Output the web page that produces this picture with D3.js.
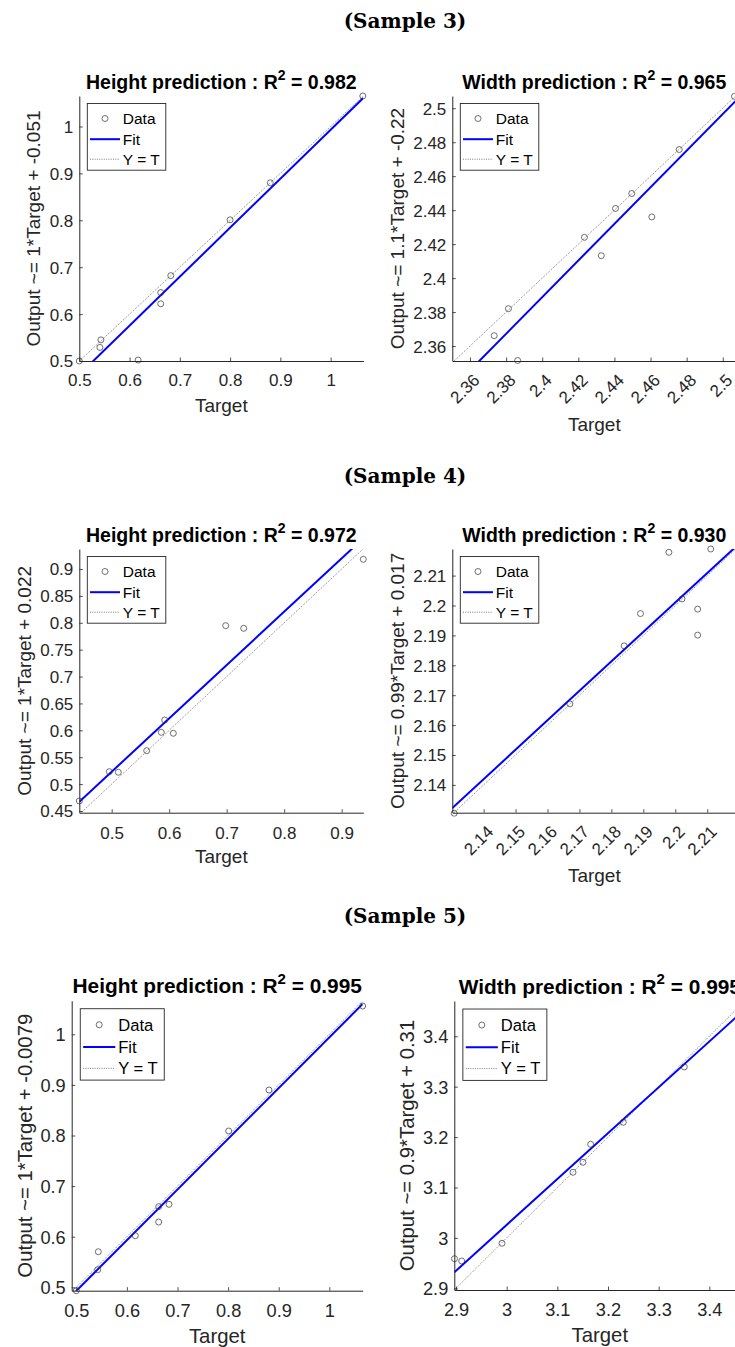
<!DOCTYPE html>
<html><head><meta charset="utf-8">
<script src="https://cdnjs.cloudflare.com/ajax/libs/d3/7.8.5/d3.min.js"></script>
<style>body{margin:0;background:#fff;} svg{display:block;}</style>
</head><body>
<svg id="chart" width="735" height="1347"></svg>
<script>
// ---------- text ----------
const sectionTitles = ["(Sample 3)", "(Sample 4)", "(Sample 5)"];
const panelNames = ["Height prediction", "Width prediction", "Height prediction", "Width prediction", "Height prediction", "Width prediction"];
const r2Values = ["0.982", "0.965", "0.972", "0.930", "0.995", "0.995"];
const yLabels = [
  "Output ~= 1*Target + -0.051",
  "Output ~= 1.1*Target + -0.22",
  "Output ~= 1*Target + 0.022",
  "Output ~= 0.99*Target + 0.017",
  "Output ~= 1*Target + -0.0079",
  "Output ~= 0.9*Target + 0.31"
];
const legendLabels = ["Data", "Fit", "Y = T"];

// ---------- data ----------
const s3HeightTarget = [0.500, 0.543, 0.541, 0.617, 0.662, 0.662, 0.682, 0.800, 0.880, 1.064];
const s3HeightOutput = [0.500, 0.545, 0.529, 0.502, 0.646, 0.622, 0.682, 0.801, 0.880, 1.065];
const s3WidthTarget = [2.3734, 2.3813, 2.3864, 2.4234, 2.4327, 2.4406, 2.4496, 2.4607, 2.4759, 2.5065];
const s3WidthOutput = [2.3661, 2.3820, 2.3515, 2.4240, 2.4132, 2.4410, 2.4498, 2.4360, 2.4757, 2.5070];
const s4HeightTarget = [0.4437, 0.4959, 0.5115, 0.5609, 0.5863, 0.5922, 0.6072, 0.6983, 0.7296, 0.9376];
const s4HeightOutput = [0.4686, 0.5231, 0.5220, 0.5621, 0.5963, 0.6192, 0.5945, 0.7946, 0.7897, 0.9180];
const s4WidthTarget = [2.1308, 2.1670, 2.1840, 2.1891, 2.1980, 2.2021, 2.2070, 2.2070, 2.2111];
const s4WidthOutput = [2.1305, 2.1671, 2.1865, 2.1973, 2.2178, 2.2022, 2.1988, 2.1901, 2.2189];
const s5HeightTarget = [0.4999, 0.5423, 0.5435, 0.6166, 0.6628, 0.6628, 0.6832, 0.8012, 0.8808, 1.0660];
const s5HeightOutput = [0.4933, 0.5348, 0.5703, 0.6020, 0.6593, 0.6290, 0.6640, 0.8089, 0.8899, 1.0559];
const s5WidthTarget = [2.8970, 2.9112, 2.9908, 3.1309, 3.1506, 3.1658, 3.2302, 3.3506];
const s5WidthOutput = [2.9587, 2.9542, 2.9893, 3.1302, 3.1500, 3.1857, 3.2294, 3.3392];

const targets = [s3HeightTarget, s3WidthTarget, s4HeightTarget, s4WidthTarget, s5HeightTarget, s5WidthTarget];
const outputs = [s3HeightOutput, s3WidthOutput, s4HeightOutput, s4WidthOutput, s5HeightOutput, s5WidthOutput];

// fitted line coefficients (slope, intercept) as drawn
const fitSlopes = [1.044, 1.078, 0.992, 0.985, 1.0016, 0.9097];
const fitIntercepts = [-0.051, -0.1984, 0.027, 0.034, -0.0078, 0.2967];

// axis limits
const xDomains = [[0.5, 1.065], [2.3502, 2.5075], [0.4437, 0.9376], [2.1302, 2.2191], [0.4909, 1.066], [2.8966, 3.471]];
const yDomains = [[0.5, 1.065], [2.3512, 2.5072], [0.4468, 0.9372], [2.1307, 2.2189], [0.4933, 1.0664], [2.8966, 3.470]];

// ticks
const xTicks = [
  [0.5, 0.6, 0.7, 0.8, 0.9, 1],
  [2.36, 2.38, 2.4, 2.42, 2.44, 2.46, 2.48, 2.5],
  [0.5, 0.6, 0.7, 0.8, 0.9],
  [2.14, 2.15, 2.16, 2.17, 2.18, 2.19, 2.2, 2.21],
  [0.5, 0.6, 0.7, 0.8, 0.9, 1],
  [2.9, 3, 3.1, 3.2, 3.3, 3.4]
];
const yTicks = [
  [0.5, 0.6, 0.7, 0.8, 0.9, 1],
  [2.36, 2.38, 2.4, 2.42, 2.44, 2.46, 2.48, 2.5],
  [0.45, 0.5, 0.55, 0.6, 0.65, 0.7, 0.75, 0.8, 0.85, 0.9],
  [2.14, 2.15, 2.16, 2.17, 2.18, 2.19, 2.2, 2.21],
  [0.5, 0.6, 0.7, 0.8, 0.9, 1],
  [2.9, 3, 3.1, 3.2, 3.3, 3.4]
];

// ---------- layout ----------
const sectionY = [21, 476, 916];
const sectionX = 405;
const layout = [
  {left: 79.3, top: 96, w: 284, h: 265, rot: false, ylo: 46, f: 1, tkY: 19, lbY: 44},
  {left: 452.3, top: 96, w: 284, h: 265, rot: true, ylo: 55, f: 1, tkY: 19, lbY: 63},
  {left: 79.3, top: 549, w: 284, h: 263.7, rot: false, ylo: 55, f: 1, tkY: 20, lbY: 44},
  {left: 452.3, top: 549, w: 284, h: 263.7, rot: true, ylo: 55, f: 1, tkY: 19, lbY: 63},
  {left: 71.7, top: 1000.7, w: 291, h: 290, rot: false, ylo: 46.7, f: 1.07, tkY: 19.5, lbY: 45},
  {left: 454.3, top: 1001, w: 291, h: 289, rot: false, ylo: 47.6, f: 1.07, tkY: 19.5, lbY: 45}
];
const FONT = "'Liberation Sans', Arial, Helvetica, sans-serif";
const AX = "#262626";

const svg = d3.select("#chart");

svg.selectAll("text.section").data(sectionTitles).join("text")
  .attr("class", "section")
  .attr("x", sectionX).attr("y", (d, i) => sectionY[i])
  .attr("dy", "0.35em")
  .attr("text-anchor", "middle")
  .style("font-family", "'DejaVu Serif', 'Liberation Serif', serif")
  .style("font-weight", "bold").style("font-size", "20px")
  .text(d => d);

const fmt = v => String(+v.toFixed(4));

layout.forEach((L, i) => {
  const g = svg.append("g").attr("transform", `translate(${L.left},${L.top})`);
  const x = d3.scaleLinear().domain(xDomains[i]).range([0, L.w]);
  const y = d3.scaleLinear().domain(yDomains[i]).range([L.h, 0]);
  const tickFs = 17 * L.f, labFs = 19 * L.f, titleFs = 19.5 * L.f, legFs = 15.5 * L.f;

  const clipId = "clip" + i;
  g.append("clipPath").attr("id", clipId).append("rect")
    .attr("x", -4).attr("y", -4).attr("width", L.w + 8).attr("height", L.h + 8);
  const clipLine = "lineclip" + i;
  g.append("clipPath").attr("id", clipLine).append("rect")
    .attr("x", 0).attr("y", 0).attr("width", L.w).attr("height", L.h);

  // Y = T line
  const lo = Math.min(xDomains[i][0], yDomains[i][0]);
  const hi = Math.max(xDomains[i][1], yDomains[i][1]);
  g.append("line").attr("clip-path", `url(#${clipLine})`)
    .attr("x1", x(lo)).attr("y1", y(lo)).attr("x2", x(hi)).attr("y2", y(hi))
    .attr("stroke", "#555").attr("stroke-width", 0.8).attr("stroke-dasharray", "1,1.3");

  // fit line
  const xd = xDomains[i];
  const fy = t => fitSlopes[i] * t + fitIntercepts[i];
  g.append("line").attr("clip-path", `url(#${clipLine})`)
    .attr("x1", x(xd[0])).attr("y1", y(fy(xd[0])))
    .attr("x2", x(xd[1])).attr("y2", y(fy(xd[1])))
    .attr("stroke", "#0000ff").attr("stroke-width", 2);

  // data points
  g.append("g").attr("clip-path", `url(#${clipId})`)
    .selectAll("circle").data(targets[i].map((t, k) => [t, outputs[i][k]])).join("circle")
    .attr("cx", d => x(d[0])).attr("cy", d => y(d[1])).attr("r", 3)
    .attr("fill", "none").attr("stroke", "#333").attr("stroke-width", 0.7);

  // axes
  const xAxis = d3.axisBottom(x).tickValues(xTicks[i]).tickFormat(fmt).tickSizeInner(-3.5).tickSizeOuter(0);
  const yAxis = d3.axisLeft(y).tickValues(yTicks[i]).tickFormat(fmt).tickSizeInner(-3.5).tickSizeOuter(0);
  const gx = g.append("g").attr("transform", `translate(0,${L.h})`).call(xAxis);
  const gy = g.append("g").call(yAxis);
  [gx, gy].forEach(a => {
    a.select(".domain").attr("stroke", AX).attr("stroke-width", 1);
    a.selectAll(".tick line").attr("stroke", AX).attr("stroke-width", 0.8);
    a.selectAll(".tick text").attr("fill", AX).style("font-family", FONT).style("font-size", tickFs + "px");
  });
  gy.selectAll(".tick text").attr("x", -6).attr("dy", "0.35em");
  if (L.rot) {
    gx.selectAll(".tick text")
      .attr("text-anchor", "end")
      .attr("transform", "translate(6,16) rotate(-45)")
      .attr("x", 0).attr("y", 0).attr("dy", "0.35em");
  } else {
    gx.selectAll(".tick text").attr("y", L.tkY).attr("dy", "0.35em");
  }

  // axis labels
  g.append("text").attr("x", L.w / 2).attr("y", L.h + L.lbY)
    .attr("dy", "0.35em").attr("text-anchor", "middle")
    .attr("fill", AX).style("font-family", FONT).style("font-size", labFs + "px")
    .text("Target");
  g.append("text").attr("transform", `translate(${-L.ylo},${L.h / 2}) rotate(-90)`)
    .attr("dy", "0.35em").attr("text-anchor", "middle")
    .attr("fill", AX).style("font-family", FONT).style("font-size", labFs + "px")
    .text(yLabels[i]);

  // title
  const t = g.append("text").attr("x", L.w / 2).attr("y", -7.5)
    .attr("text-anchor", "middle").attr("fill", "#000")
    .style("font-family", FONT).style("font-weight", "bold").style("font-size", titleFs + "px");
  t.append("tspan").text(panelNames[i] + " : R");
  t.append("tspan").attr("dy", -0.45 * titleFs).style("font-size", (titleFs * 0.72) + "px").text("2");
  t.append("tspan").attr("dy", 0.45 * titleFs).text(" = " + r2Values[i]);

  // legend
  const lg = g.append("g").attr("transform", `translate(${8 * L.f},${7.5 * L.f})`);
  lg.append("rect").attr("width", 78.5 * L.f).attr("height", 66.7 * L.f)
    .attr("fill", "#fff").attr("stroke", AX).attr("stroke-width", 0.9);
  const rows = [15, 35.7, 55.7].map(v => v * L.f);
  lg.append("circle").attr("cx", 17.7 * L.f).attr("cy", rows[0]).attr("r", 3)
    .attr("fill", "none").attr("stroke", "#333").attr("stroke-width", 0.7);
  lg.append("line").attr("x1", 2.7 * L.f).attr("x2", 32.7 * L.f).attr("y1", rows[1]).attr("y2", rows[1])
    .attr("stroke", "#0000ff").attr("stroke-width", 2);
  lg.append("line").attr("x1", 2.7 * L.f).attr("x2", 32.7 * L.f).attr("y1", rows[2]).attr("y2", rows[2])
    .attr("stroke", "#555").attr("stroke-width", 0.8).attr("stroke-dasharray", "1,1.3");
  lg.selectAll("text").data(legendLabels).join("text")
    .attr("x", 35.5 * L.f).attr("y", (d, k) => rows[k]).attr("dy", "0.35em")
    .attr("fill", "#000").style("font-family", FONT).style("font-size", legFs + "px")
    .text(d => d);
});
</script>
</body></html>
